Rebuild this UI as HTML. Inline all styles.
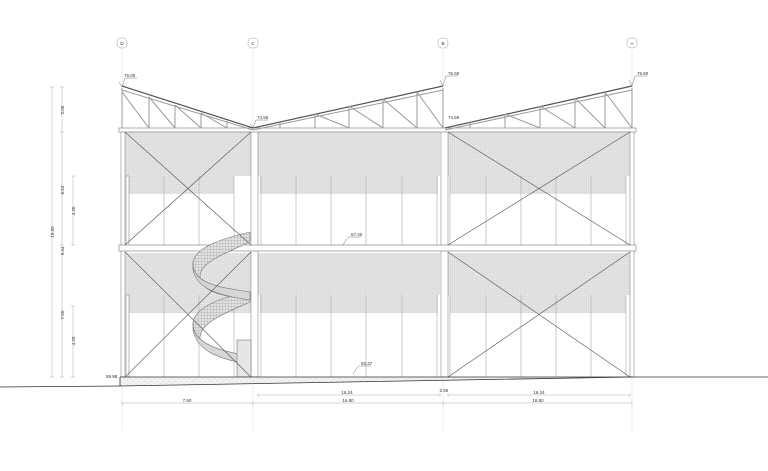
<!DOCTYPE html>
<html><head><meta charset="utf-8"><style>
html,body{margin:0;padding:0;background:#fff}
svg{display:block}
text{font-family:"Liberation Sans",sans-serif;font-size:4.5px;fill:#333}
</style></head><body>
<svg width="768" height="471" viewBox="0 0 768 471" xmlns="http://www.w3.org/2000/svg">
<defs>
<pattern id="mesh" width="2" height="2" patternUnits="userSpaceOnUse">
<rect width="2" height="2" fill="#e8e8e8"/>
<path d="M0 0.5H2M0.5 0V2" stroke="#d2d2d2" stroke-width="0.4"/>
</pattern>
<pattern id="smesh" width="3" height="3" patternUnits="userSpaceOnUse">
<rect width="3" height="3" fill="#e2e2e2"/>
<path d="M0 0.5H3M0.5 0V3" stroke="#aaa" stroke-width="0.4"/>
</pattern>
<pattern id="grav" width="6" height="4" patternUnits="userSpaceOnUse">
<rect width="6" height="4" fill="#f2f2f2"/>
<circle cx="1" cy="1" r="0.4" fill="#999"/><circle cx="4" cy="3" r="0.4" fill="#aaa"/>
</pattern>
</defs>
<g stroke="#ddd" stroke-width="0.5" fill="none">
<line x1="122" y1="50" x2="122" y2="430"/><line x1="253" y1="50" x2="253" y2="430"/>
<line x1="443" y1="50" x2="443" y2="430"/><line x1="632" y1="50" x2="632" y2="430"/>
</g>
<g stroke="#999" stroke-width="0.5" fill="#fff">
<rect x="117" y="38" width="10" height="10" rx="4"/><rect x="248" y="38" width="10" height="10" rx="4"/>
<rect x="438" y="38" width="10" height="10" rx="4"/><rect x="627" y="38" width="10" height="10" rx="4"/>
</g>
<g text-anchor="middle"><text x="122" y="45">D</text><text x="253" y="45">C</text><text x="443" y="45">B</text><text x="632" y="45">A</text></g>

<rect x="124" y="132" width="127" height="44" fill="url(#mesh)"/>
<rect x="129" y="176" width="105" height="18" fill="url(#mesh)"/>
<rect x="258" y="132" width="182" height="44" fill="url(#mesh)"/>
<rect x="260" y="176" width="178" height="18" fill="url(#mesh)"/>
<rect x="448" y="132" width="182" height="44" fill="url(#mesh)"/>
<rect x="450" y="176" width="176" height="18" fill="url(#mesh)"/>
<rect x="124" y="253" width="127" height="42" fill="url(#mesh)"/>
<rect x="129" y="295" width="122" height="18" fill="url(#mesh)"/>
<rect x="258" y="253" width="182" height="42" fill="url(#mesh)"/>
<rect x="260" y="295" width="178" height="18" fill="url(#mesh)"/>
<rect x="448" y="253" width="182" height="42" fill="url(#mesh)"/>
<rect x="450" y="295" width="176" height="18" fill="url(#mesh)"/>

<g stroke="#aaa" stroke-width="0.6">
<path d="M164 176V245M199 176V245M234 176V245M164 295V377M199 295V377M234 295V377"/>
<path d="M261 176V245M296 176V245M331 176V245M366 176V245M402 176V245M437 176V245"/>
<path d="M261 295V377M296 295V377M331 295V377M366 295V377M402 295V377M437 295V377"/>
<path d="M450 176V245M486 176V245M521 176V245M556 176V245M591 176V245M626 176V245"/>
<path d="M450 295V377M486 295V377M521 295V377M556 295V377M591 295V377M626 295V377"/>
</g>
<g stroke="#888" stroke-width="0.6" fill="#fff">
<rect x="121" y="130" width="4" height="247"/><rect x="251" y="130" width="7" height="247"/>
<rect x="441" y="130" width="7" height="247"/><rect x="630" y="130" width="4" height="247"/>
<rect x="126" y="176" width="3" height="70"/><rect x="126" y="295" width="3" height="82"/>
</g>
<g stroke="#777" stroke-width="0.6" fill="#fff">
<rect x="119" y="128" width="517" height="4"/>
<rect x="119" y="245" width="517" height="6"/>
</g>
<!-- spiral stair -->
<g stroke="#777" stroke-width="0.6">
<path d="M250 232C225 238 196 246 193 262C191 285 225 288 250 292L250 300C222 296 200 292 200 276C200 262 228 252 250 242Z" fill="url(#smesh)"/>
<path d="M250 292C225 296 196 306 193 322C191 345 225 352 250 356L250 364C222 360 200 352 200 338C200 322 228 312 250 302Z" fill="url(#smesh)"/>
<path d="M193 262C191 285 225 288 250 292L250 300C222 296 197 290 193 270Z" fill="#d6d6d6"/>
<path d="M193 322C191 345 225 352 250 356L250 364C222 360 197 352 193 330Z" fill="#d6d6d6"/>
<rect x="237" y="340" width="14" height="37" fill="#e6e6e6"/>
</g>
<g stroke="#555" stroke-width="0.6">
<path d="M125 132L251 245M251 132L125 245"/>
<path d="M448 132L630 245M630 132L448 245"/>
<path d="M125 252L251 377M251 252L125 377"/>
<path d="M448 252L630 377M630 252L448 377"/>
</g>

<g stroke="#555" stroke-width="1.2" fill="none">
<path d="M122 86L253 128M253 128L443 86M445 128L632 86"/>
</g>
<g stroke="#999" stroke-width="1" fill="none">
<path d="M122 90L253 130M253 130L443 90M445 130L632 90"/>
<path d="M122 88V128M149 97V128M175 105V128M201 113V128M227 121V128"/>
<path d="M122 92L149 128M149 97L175 128M175 105L201 128M201 113L227 128"/>
<path d="M280 122V128M315 114V128M349 106V128M383 99V128M417 92V128M443 88V128"/>
<path d="M315 114L349 128M349 106L383 128M383 99L417 128M417 92L443 128"/>
<path d="M470 122V128M505 114V128M540 106V128M575 98V128M605 92V128M632 88V128"/>
<path d="M505 114L540 128M540 106L575 128M575 98L605 128M605 92L632 128"/>
</g>
<g stroke="#555" stroke-width="0.4" fill="none">
<path d="M119 82L122 87L125 78H137M250 124L253 128L256 120H268M440 80L443 86L446 76H458M629 80L632 86L635 76H647M343 245L346 240L349 237H361M353 374L356 369L359 366H371"/>
</g>
<text x="124" y="77">76.00</text><text x="257" y="119">74.55</text><text x="448" y="119">74.55</text>
<text x="448" y="75">76.60</text><text x="637" y="75">76.60</text>
<text x="351" y="236">67.40</text><text x="361" y="365">60.37</text><text x="106" y="378">59.88</text>

<path d="M120 377H632L120 386Z" fill="url(#grav)"/>
<g stroke="#333" stroke-width="0.8" fill="none">
<path d="M0 387L120 386L632 377H768"/>
<path d="M120 377H632M120 377V386"/>
</g>

<g stroke="#999" stroke-width="0.4">
<path d="M258 395H440M448 395H630M122 403H632"/>
<path d="M258 393V397M440 393V397M448 393V397M630 393V397M122 401V405M253 401V405M443 401V405M632 401V405"/>
</g>
<g text-anchor="middle"><text x="347" y="394">16.24</text><text x="444" y="392">0.56</text><text x="539" y="394">16.24</text>
<text x="187" y="402">7.50</text><text x="348" y="402">16.80</text><text x="538" y="402">16.80</text></g>

<g stroke="#999" stroke-width="0.4">
<path d="M52 87V377M62 87V377M73 176V245M73 306V377"/>
<path d="M50 87H54M50 377H54M60 87H64M60 132H64M60 245H64M60 377H64M71 176H75M71 245H75M71 306H75M71 377H75"/>
</g>
<g text-anchor="middle">
<text transform="translate(54,232) rotate(-90)">19.50</text>
<text transform="translate(64,110) rotate(-90)">2.05</text>
<text transform="translate(64,190) rotate(-90)">6.53</text>
<text transform="translate(64,251) rotate(-90)">9.44</text>
<text transform="translate(64,315) rotate(-90)">7.50</text>
<text transform="translate(75,211) rotate(-90)">4.20</text>
<text transform="translate(75,341) rotate(-90)">4.20</text>
</g>
</svg>
</body></html>
